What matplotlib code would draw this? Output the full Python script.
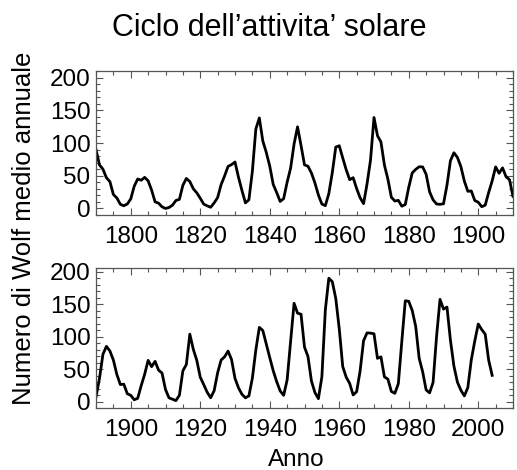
#!/usr/bin/env python3
import numpy as np
import matplotlib
matplotlib.use("Agg")
import matplotlib.pyplot as plt
from matplotlib.ticker import MultipleLocator

# yearly mean Wolf (sunspot) numbers
years_top = list(range(1790, 1911))
wolf_top = [
    89.9, 66.6, 60.0, 46.9, 41.0, 21.3, 16.0, 6.4, 4.1, 6.8,
    14.5, 34.0, 45.0, 43.1, 47.5, 42.2, 28.1, 10.1, 8.1, 2.5,
    0.0, 1.4, 5.0, 12.2, 13.9, 35.4, 45.8, 41.1, 30.1, 23.9,
    15.6, 6.6, 4.0, 1.8, 8.5, 16.6, 36.3, 49.6, 64.2, 67.0,
    70.9, 47.8, 27.5, 8.5, 13.2, 56.9, 121.5, 138.3, 103.2, 85.7,
    64.6, 36.7, 24.2, 10.7, 15.0, 40.1, 61.5, 98.5, 124.7, 96.3,
    66.6, 64.5, 54.1, 39.0, 20.6, 6.7, 4.3, 22.7, 54.8, 93.8,
    95.8, 77.2, 59.1, 44.0, 47.0, 30.5, 16.3, 7.3, 37.6, 74.0,
    139.0, 111.2, 101.6, 66.2, 44.7, 17.0, 11.3, 12.4, 3.4, 6.0,
    32.3, 54.3, 59.7, 63.7, 63.5, 52.2, 25.4, 13.1, 6.8, 6.3,
    7.1, 35.6, 73.0, 85.1, 78.0, 64.0, 41.8, 26.2, 26.7, 12.1,
    9.5, 2.7, 5.0, 24.4, 42.0, 63.5, 53.8, 62.0, 48.5, 43.9,
    18.6,
]

years_bot = list(range(1890, 2005))
wolf_bot = [
    7.1, 35.6, 73.0, 85.1, 78.0, 64.0, 41.8, 26.2, 26.7, 12.1,
    9.5, 2.7, 5.0, 24.4, 42.0, 63.5, 53.8, 62.0, 48.5, 43.9,
    18.6, 5.7, 3.6, 1.4, 9.6, 47.4, 57.1, 103.9, 80.6, 63.6,
    37.6, 26.1, 14.2, 5.8, 16.7, 44.3, 63.9, 69.0, 77.8, 64.9,
    35.7, 21.2, 11.1, 5.7, 8.7, 36.1, 79.7, 114.4, 109.6, 88.8,
    67.8, 47.5, 30.6, 16.3, 9.6, 33.2, 92.6, 151.6, 136.3, 134.7,
    83.9, 69.4, 31.5, 13.9, 4.4, 38.0, 141.7, 190.2, 184.8, 159.0,
    112.3, 53.9, 37.6, 27.9, 10.2, 15.1, 47.0, 93.8, 105.9, 105.5,
    104.5, 66.6, 68.9, 38.0, 34.5, 15.5, 12.6, 27.5, 92.5, 155.4,
    154.6, 140.4, 115.9, 66.6, 45.9, 17.9, 13.4, 29.4, 100.2, 157.6,
    142.6, 145.7, 94.3, 54.6, 29.9, 17.5, 8.6, 21.5, 64.3, 93.3,
    119.6, 111.0, 104.0, 63.7, 40.4,
]

plt.rcParams["font.family"] = ["Liberation Sans", "DejaVu Sans"]

W, H = 517, 470
fig = plt.figure(figsize=(W / 100, H / 100), dpi=100)

def px_axes(left, top, right, bottom):
    return fig.add_axes([left / W, 1 - bottom / H, (right - left) / W, (bottom - top) / H])

ax1 = px_axes(96, 71, 513, 215)
ax2 = px_axes(96, 268, 513, 408)

for ax, x, y, xlim, ylim in [(ax1, years_top, wolf_top, (1790, 1910), (-10, 210)),
                             (ax2, years_bot, wolf_bot, (1890, 2010), (-10, 206))]:
    ax.plot(x, y, color="black", lw=2.0, solid_joinstyle="round")
    ax.set_xlim(*xlim)
    ax.set_ylim(*ylim)
    ax.xaxis.set_major_locator(MultipleLocator(20))
    ax.xaxis.set_minor_locator(MultipleLocator(5))
    ax.yaxis.set_major_locator(MultipleLocator(50))
    ax.yaxis.set_minor_locator(MultipleLocator(10))
    ax.tick_params(which="both", direction="in", top=True, right=True,
                   color="#555555", width=0.8, labelsize=17.5)
    ax.tick_params(which="major", length=5)
    ax.tick_params(which="minor", length=3)
    ax.tick_params(axis="x", pad=8)
    ax.tick_params(axis="y", pad=4)
    for s in ax.spines.values():
        s.set_color("#555555")
        s.set_linewidth(0.9)

fig.text(269 / W, 1 - 36 / H, "Ciclo dell\u2019attivita\u2019 solare",
         ha="center", va="baseline", fontsize=22)
fig.text(24 / W, 1 - 228 / H, "Numero di Wolf medio annuale",
         rotation=90, ha="center", va="center", fontsize=18.5)
fig.text(296 / W, 1 - 460 / H, "Anno", ha="center", va="center", fontsize=17.5)

fig.savefig("out.png", dpi=100)
